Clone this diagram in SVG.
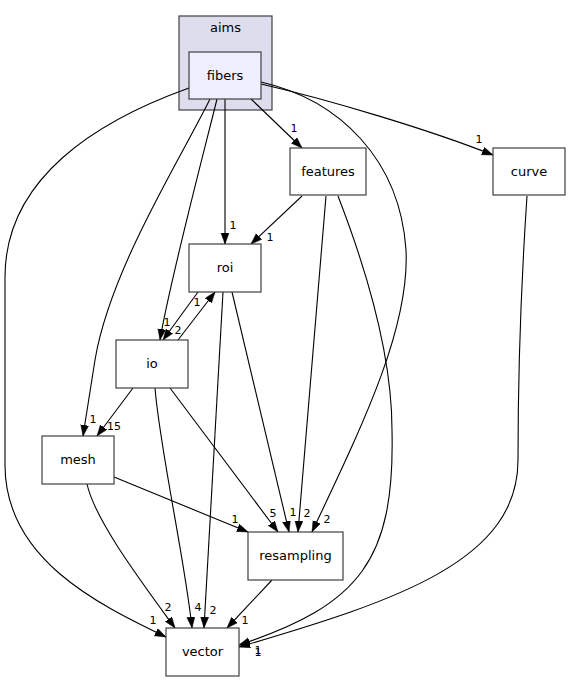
<svg xmlns="http://www.w3.org/2000/svg" width="571" height="681" viewBox="0 0 571 681">
<style>
text{font-family:"DejaVu Sans","Liberation Sans",sans-serif;font-size:11px;fill:#000;text-anchor:middle}
.node text,.cl text{font-size:13px}
.node rect{fill:#fff;stroke:#404040;stroke-width:1.2}
#connectors path{fill:none;stroke:#000;stroke-width:1.1;marker-end:url(#ah)}
</style>
<defs>
<marker id="ah" markerUnits="userSpaceOnUse" markerWidth="12" markerHeight="9" refX="11" refY="4" orient="auto">
<path d="M0,0 L11,4 L0,8 z" fill="#000" stroke="#000" stroke-width="0.5"/>
</marker>
</defs>
<rect width="571" height="681" fill="#fff"/>
<g id="cluster_aims" class="cl">
<rect x="179" y="16" width="93" height="94" fill="#ddddee" stroke="#404040" stroke-width="1.2"/>
<text x="225.5" y="32">aims</text>
</g>
<g id="connectors">
<path d="M251,99 L302,148"/>
<path d="M225,99 L225,244"/>
<path d="M302,196 L251,244"/>
<path d="M217,99 C207,140 170,280 160,340"/>
<path d="M198,292 L163,340"/>
<path d="M178,340 L215,292"/>
<path d="M210,99 C180,160 110,270 95,360 L83,436"/>
<path d="M133,388 L97,436"/>
<path d="M189,88 C97,121 5,178 5,277 L5,465 C5,560 100,605 166,637"/>
<path d="M87,484 C95,520 140,580 175,628"/>
<path d="M155,388 C160,450 185,560 192,628"/>
<path d="M223,292 L204,628"/>
<path d="M272,580 L227,628"/>
<path d="M338,196 C362,258 392,350 392,430 C395,560 360,605 239,645"/>
<path d="M527,196 C520,300 518,400 518,460 C518,560 400,600 239,647"/>
<path d="M261,82 C340,100 400,160 406,250 C410,330 360,430 312,532"/>
<path d="M326,196 L298,532"/>
<path d="M232,292 L289,532"/>
<path d="M170,388 L278,532"/>
<path d="M114,477 L248,532"/>
<path d="M261,84 C330,100 430,130 493,155"/>
</g>
<g id="edge_labels">
<text x="294" y="132">1</text>
<text x="233" y="229">1</text>
<text x="270" y="241">1</text>
<text x="167" y="326">1</text>
<text x="178" y="334">2</text>
<text x="197" y="306">1</text>
<text x="93" y="423">1</text>
<text x="114" y="430">15</text>
<text x="153" y="624">1</text>
<text x="168" y="611">2</text>
<text x="198" y="611">4</text>
<text x="213" y="614">2</text>
<text x="245" y="624">1</text>
<text x="258" y="654">1</text>
<text x="258" y="656">1</text>
<text x="327" y="523">2</text>
<text x="307" y="517">2</text>
<text x="293" y="516">1</text>
<text x="273" y="517">5</text>
<text x="235" y="523">1</text>
<text x="479" y="143">1</text>
</g>
<g id="node_fibers" class="node">
<rect x="189" y="52" width="72" height="47" style="fill:#eeeeff"/>
<text x="225" y="80">fibers</text>
</g>
<g id="node_features" class="node">
<rect x="290" y="148" width="76" height="47"/>
<text x="328" y="176">features</text>
</g>
<g id="node_curve" class="node">
<rect x="493" y="148" width="72" height="47"/>
<text x="529" y="176">curve</text>
</g>
<g id="node_roi" class="node">
<rect x="189" y="244" width="72" height="48"/>
<text x="225" y="272">roi</text>
</g>
<g id="node_io" class="node">
<rect x="116" y="340" width="72" height="48"/>
<text x="152" y="368">io</text>
</g>
<g id="node_mesh" class="node">
<rect x="42" y="436" width="72" height="48"/>
<text x="78" y="464">mesh</text>
</g>
<g id="node_resampling" class="node">
<rect x="248" y="532" width="95" height="48"/>
<text x="295.5" y="560">resampling</text>
</g>
<g id="node_vector" class="node">
<rect x="166" y="628" width="73" height="48"/>
<text x="202.5" y="656">vector</text>
</g>
</svg>
